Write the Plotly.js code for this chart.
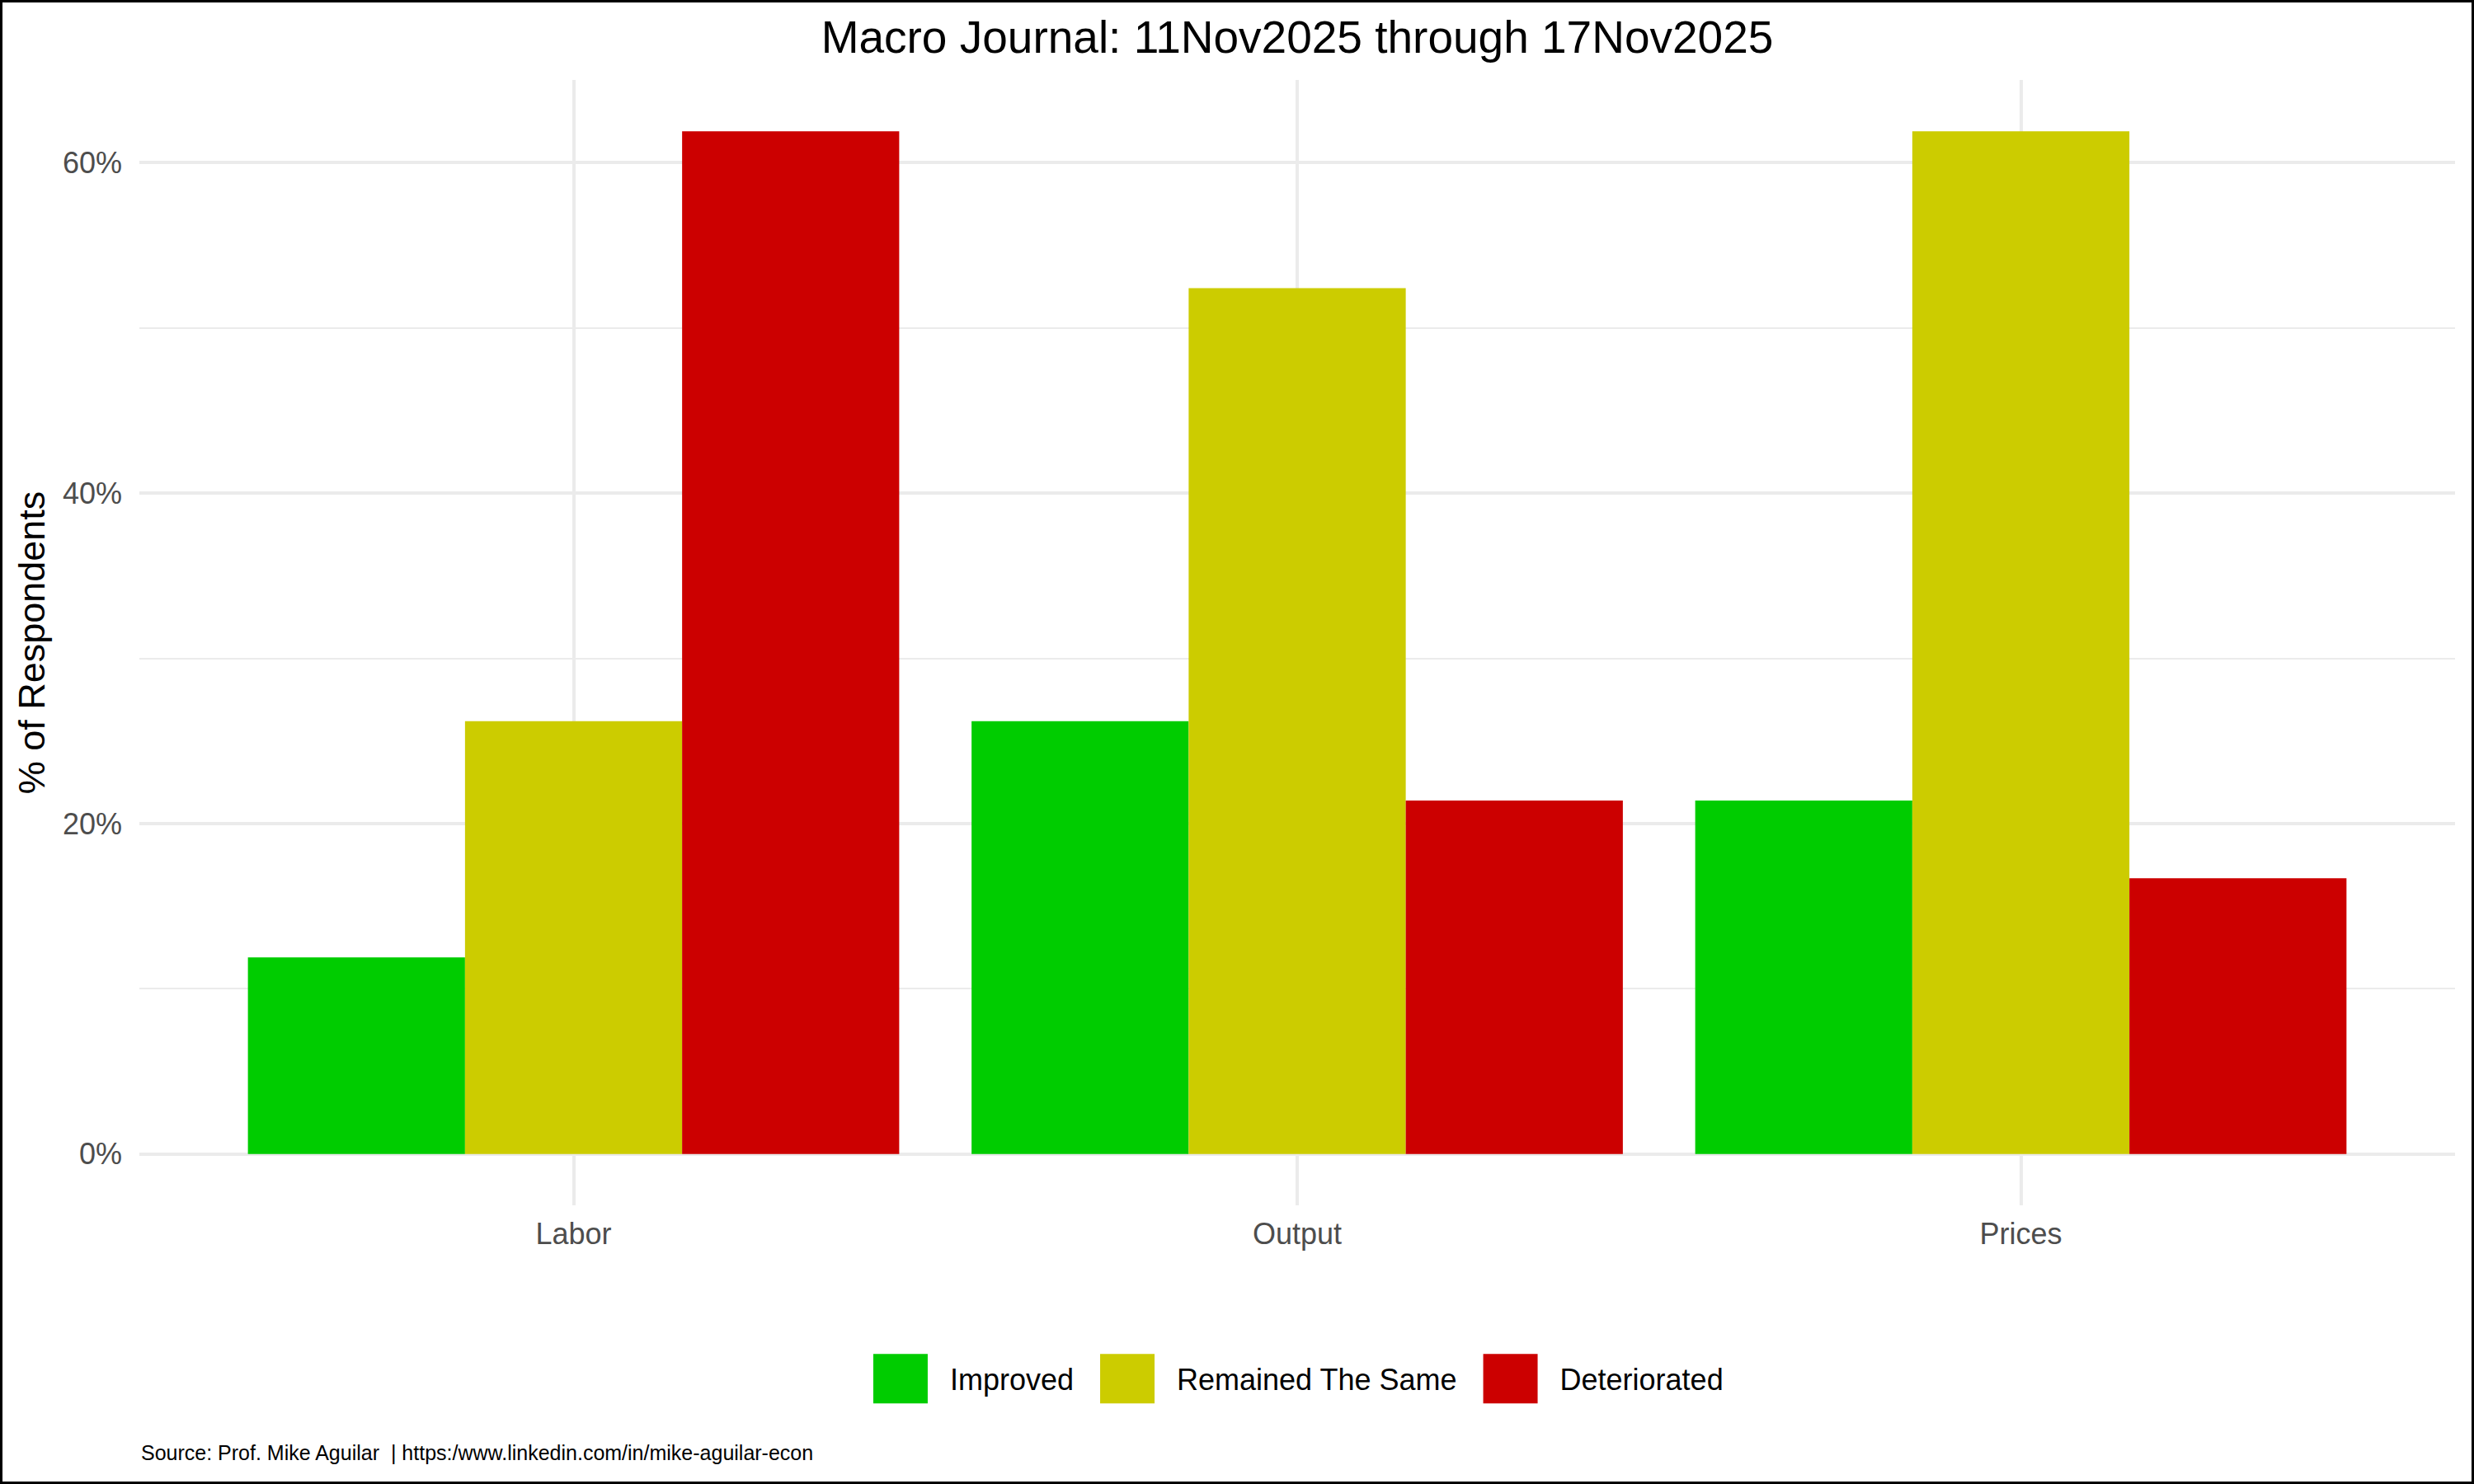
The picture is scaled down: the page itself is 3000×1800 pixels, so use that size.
<!DOCTYPE html>
<html>
<head>
<meta charset="utf-8">
<script src="https://cdn.plot.ly/plotly-3.0.1.min.js"></script>
<style>
  html, body { margin: 0; padding: 0; background: #fff; }
  #chart { width: 3000px; height: 1800px; box-sizing: border-box; border: 3px solid #000; }
</style>
</head>
<body>
<div id="chart"></div>
<script>
const categories = ['Labor', 'Output', 'Prices'];
const seriesNames = ['Improved', 'Remained The Same', 'Deteriorated'];
const improved = [0.119, 0.262, 0.214];
const remained = [0.262, 0.524, 0.619];
const deteriorated = [0.619, 0.214, 0.167];
const colors = ['#00CC00', '#CCCC00', '#CC0000'];
const yTicks = [0, 0.2, 0.4, 0.6];

const FONT = '"Liberation Sans", Arial, sans-serif';
const GRID = '#ebebeb';

const traces = [improved, remained, deteriorated].map((vals, i) => ({
  type: 'bar',
  name: seriesNames[i],
  x: categories,
  y: vals,
  marker: {color: colors[i], line: {width: 0}},
  hoverinfo: 'x+y+name'
}));

const layout = {
  width: 2994,
  height: 1794,
  margin: {l: 166, r: 20, t: 94, b: 335},
  paper_bgcolor: '#fff',
  plot_bgcolor: '#fff',
  font: {family: FONT, color: '#000'},
  barmode: 'group',
  bargap: 0.1,
  bargroupgap: 0,
  title: {
    text: 'Macro Journal: 11Nov2025 through 17Nov2025',
    font: {family: FONT, size: 55, color: '#000'},
    xref: 'paper', x: 0.5, xanchor: 'center',
    yref: 'container', y: 0.977, yanchor: 'middle'
  },
  xaxis: {
    type: 'category',
    range: [-0.6, 2.6],
    showgrid: true,
    gridcolor: GRID,
    gridwidth: 4,
    showline: false,
    zeroline: false,
    ticks: '',
    ticklabelstandoff: 10,
    tickfont: {family: FONT, size: 36, color: '#4d4d4d'}
  },
  yaxis: {
    range: [-0.031, 0.65],
    tickvals: yTicks,
    tickformat: '.0%',
    showgrid: true,
    gridcolor: GRID,
    gridwidth: 4,
    zeroline: false,
    showline: false,
    ticks: '',
    ticklabelstandoff: 20,
    tickfont: {family: FONT, size: 36, color: '#4d4d4d'},
    minor: {dtick: 0.1, tick0: 0, showgrid: true, gridcolor: GRID, gridwidth: 2, ticks: ''},
    title: {
      text: '% of Respondents',
      font: {family: FONT, size: 45, color: '#000'},
      standoff: 7
    }
  },
  showlegend: true,
  legend: {
    orientation: 'h',
    x: 0.4966, xanchor: 'center',
    y: -0.154, yanchor: 'middle',
    bgcolor: 'rgba(0,0,0,0)',
    font: {family: FONT, size: 36, color: '#000'},
    itemwidth: 110,
    traceorder: 'normal'
  },
  annotations: [{
    text: 'Source: Prof. Mike Aguilar \u00a0| https:/www.linkedin.com/in/mike-aguilar-econ',
    xref: 'paper', yref: 'paper',
    x: 0, xanchor: 'left',
    y: -0.22, yanchor: 'middle',
    showarrow: false,
    font: {family: FONT, size: 25, color: '#000'}
  }]
};

Plotly.newPlot('chart', traces, layout, {displayModeBar: false}).then(gd => {
  // ggplot-style large square legend keys
  gd.querySelectorAll('.legend .legendpoints path').forEach(p => {
    p.setAttribute('d', 'M33,33.5H-33V-33.5H33Z');
  });
});
</script>
</body>
</html>
